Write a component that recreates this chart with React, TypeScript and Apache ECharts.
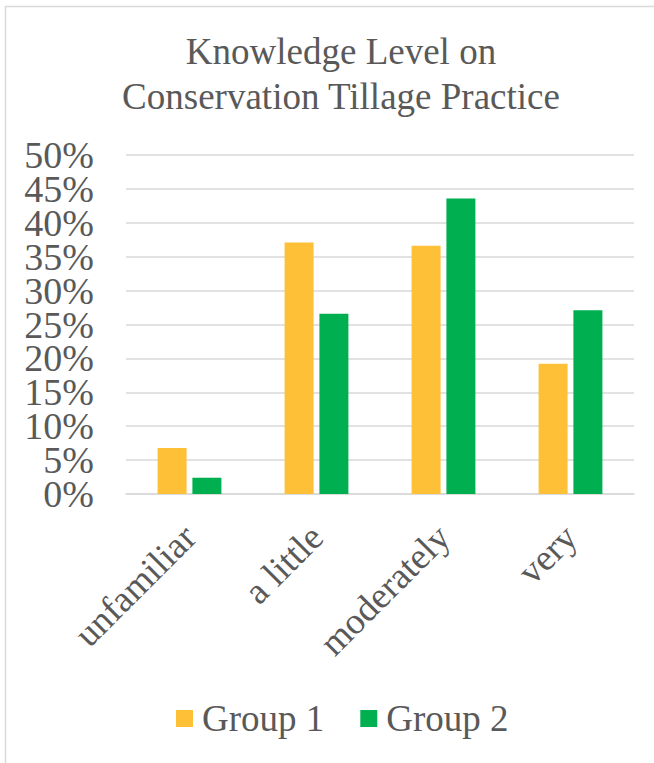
import React, { useEffect, useRef } from "react";
import * as echarts from "echarts";

const categories = ["unfamiliar", "a little", "moderately", "very"];
const group1 = [6.8, 37.1, 36.6, 19.2];
const group2 = [2.4, 26.6, 43.6, 27.1];
const seriesNames = ["Group 1", "Group 2"];
const titleLines = ["Knowledge Level on", "Conservation Tillage Practice"];

const FONT = "'Liberation Serif', 'Times New Roman', serif";
const TEXT = "#595959";
const Y_MIN = 0;
const Y_MAX = 50;
const Y_STEP = 5;

export default function App() {
  const ref = useRef<HTMLDivElement>(null);
  useEffect(() => {
    if (!ref.current) return;
    const chart = echarts.init(ref.current, null, { renderer: "svg" });
    const gridTop = 155;
    const gridBottom = 269;
    const plotH = 763 - gridTop - gridBottom;
    const pxPerUnit = plotH / (Y_MAX - Y_MIN);
    const labelStyle = {
      fontFamily: FONT,
      fontSize: 38,
      color: TEXT,
      margin: 32,
    };
    chart.setOption({
      animation: false,
      backgroundColor: "#ffffff",
      textStyle: { fontFamily: FONT, color: TEXT },
      title: {
        text: titleLines.join("\n"),
        left: 336,
        top: 24,
        textAlign: "center",
        textStyle: {
          fontFamily: FONT,
          fontSize: 37,
          fontWeight: "normal",
          color: TEXT,
          lineHeight: 45,
        },
      },
      graphic: [
        {
          type: "rect",
          shape: { x: 5.5, y: 6.5, width: 720, height: 800 },
          style: { fill: "none", stroke: "#d9d9d9", lineWidth: 1.5 },
          silent: true,
        },
      ],
      legend: {
        left: 176,
        top: 700,
        padding: 0,
        itemWidth: 17,
        itemHeight: 17,
        itemGap: 36,
        icon: "rect",
        data: seriesNames,
        textStyle: {
          fontFamily: FONT,
          fontSize: 37,
          color: TEXT,
          padding: [0, 0, 0, 4],
        },
      },
      grid: [
        { left: 126, right: 20, top: gridTop, bottom: gridBottom, containLabel: false },
        {
          left: 126,
          right: 20,
          top: gridTop - Y_STEP * pxPerUnit,
          bottom: gridBottom - Y_STEP * pxPerUnit,
          containLabel: false,
        },
      ],
      xAxis: [
        {
          type: "category",
          gridIndex: 0,
          data: categories,
          axisTick: { show: false },
          axisLine: { lineStyle: { color: "#d9d9d9", width: 1.5 } },
          axisLabel: {
            rotate: 45,
            margin: 37,
            interval: 0,
            fontFamily: FONT,
            fontSize: 37,
            color: TEXT,
          },
        },
        { type: "category", gridIndex: 1, data: categories, show: false },
      ],
      yAxis: [
        {
          type: "value",
          gridIndex: 0,
          min: Y_MIN,
          max: Y_MAX,
          interval: Y_STEP,
          axisLine: { show: false },
          axisTick: { show: false },
          splitLine: { lineStyle: { color: "#d9d9d9", width: 1.5 } },
          axisLabel: {
            ...labelStyle,
            showMinLabel: true,
            showMaxLabel: true,
            formatter: (v: number) => (Math.round(v) % 10 === 0 ? `${v}%` : ""),
          },
        },
        {
          type: "value",
          gridIndex: 1,
          min: Y_MIN - Y_STEP,
          max: Y_MAX + Y_STEP,
          interval: Y_STEP * 2,
          axisLine: { show: false },
          axisTick: { show: false },
          splitLine: { show: false },
          axisLabel: {
            ...labelStyle,
            showMinLabel: true,
            showMaxLabel: true,
            formatter: (v: number) => (v < Y_MIN || v > Y_MAX ? "" : `${v}%`),
          },
        },
      ],
      series: [
        {
          name: seriesNames[0],
          type: "bar",
          xAxisIndex: 0,
          yAxisIndex: 0,
          data: group1,
          barWidth: 29,
          barGap: "20%",
          itemStyle: { color: "#FEC036" },
        },
        {
          name: seriesNames[1],
          type: "bar",
          xAxisIndex: 0,
          yAxisIndex: 0,
          data: group2,
          barWidth: 29,
          barGap: "20%",
          itemStyle: { color: "#00AF50" },
        },
      ],
    });
    return () => chart.dispose();
  }, []);
  return (
    <div
      ref={ref}
      style={{ position: "fixed", left: 0, top: 0, width: 654, height: 763 }}
    />
  );
}
